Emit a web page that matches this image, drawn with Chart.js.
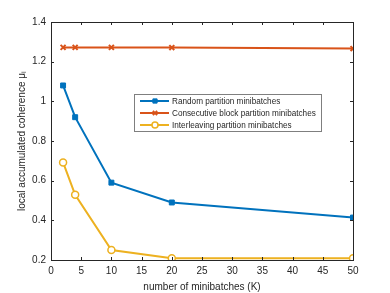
<!DOCTYPE html>
<html>
<head>
<meta charset="utf-8">
<script src="https://cdn.jsdelivr.net/npm/chart.js@4"></script>
<style>
  html, body { margin: 0; padding: 0; background: #fff; }
  #wrap { width: 390px; height: 293px; }
</style>
</head>
<body>
<div id="wrap"><canvas id="grafico"></canvas></div>
<script>
const minibatches = [2, 4, 10, 20, 50];
const aleatorio = [1.08, 0.92, 0.59, 0.49, 0.414];
const consecutivo = [1.272, 1.272, 1.272, 1.271, 1.266];
const intercalado = [0.692, 0.529, 0.25, 0.209, 0.209];
const nomes = ["Random partition minibatches", "Consecutive block partition minibatches", "Interleaving partition minibatches"];
const ticksY = [0.2, 0.4, 0.6, 0.8, 1, 1.2, 1.4];

const fonte = "'Liberation Sans', Arial, sans-serif";
const corEixo = "#262626";

function pontos(valores) {
    return minibatches.map((k, i) => ({ x: k, y: valores[i] }));
}

// caixa com ticks para dentro, estilo matlab
const caixaEixos = {
    id: "caixaEixos",
    afterDraw(chart) {
        const ctx = chart.ctx;
        const a = chart.chartArea;
        const sx = chart.scales.x, sy = chart.scales.y;
        ctx.save();
        ctx.strokeStyle = corEixo;
        ctx.lineWidth = 1;
        ctx.strokeRect(Math.round(a.left) + 0.5, Math.round(a.top) + 0.5, Math.round(a.right - a.left), Math.round(a.bottom - a.top));
        ctx.beginPath();
        sx.ticks.forEach(t => {
            const px = Math.round(sx.getPixelForValue(t.value)) + 0.5;
            ctx.moveTo(px, a.bottom); ctx.lineTo(px, a.bottom - 3);
            ctx.moveTo(px, a.top); ctx.lineTo(px, a.top + 3);
        });
        sy.ticks.forEach(t => {
            const py = Math.round(sy.getPixelForValue(t.value)) + 0.5;
            ctx.moveTo(a.left, py); ctx.lineTo(a.left + 3, py);
            ctx.moveTo(a.right, py); ctx.lineTo(a.right - 3, py);
        });
        ctx.stroke();
        ctx.restore();
    }
};

// legenda dentro da area do grafico
const legendaDentro = {
    id: "legendaDentro",
    afterDatasetsDraw(chart) {
        const ctx = chart.ctx;
        const x0 = 134, y0 = 94, w = 187, h = 37;
        ctx.save();
        ctx.fillStyle = "#fff";
        ctx.fillRect(x0, y0, w, h);
        ctx.strokeStyle = "#7f7f7f";
        ctx.lineWidth = 1;
        ctx.strokeRect(x0 + 0.5, y0 + 0.5, w, h);
        ctx.font = "8.2px " + fonte;
        ctx.textBaseline = "middle";
        chart.data.datasets.forEach((ds, i) => {
            const y = y0 + 7 + i * 12;
            ctx.strokeStyle = ds.borderColor;
            ctx.lineWidth = 2;
            ctx.beginPath();
            ctx.moveTo(x0 + 6, y); ctx.lineTo(x0 + 35, y);
            ctx.stroke();
            ctx.fillStyle = ds.pointBackgroundColor;
            ctx.strokeStyle = ds.borderColor;
            ctx.lineWidth = ds.pointBorderWidth;
            Chart.helpers.drawPoint(ctx, {
                pointStyle: ds.pointStyle,
                radius: 3,
                borderWidth: ds.pointBorderWidth,
                rotation: 0
            }, x0 + 21, y);
            ctx.fillStyle = corEixo;
            ctx.fillText(ds.label, x0 + 38, y + 0.5);
        });
        ctx.restore();
    }
};

const grafico = new Chart(document.getElementById("grafico"), {
    type: "line",
    data: {
        datasets: [
            {
                label: nomes[0],
                data: pontos(aleatorio),
                borderColor: "#0072BD",
                backgroundColor: "#0072BD",
                pointBackgroundColor: "#0072BD",
                pointStyle: "rect",
                pointRadius: 3.5,
                pointBorderWidth: 1,
                borderWidth: 2
            },
            {
                label: nomes[1],
                data: pontos(consecutivo),
                borderColor: "#D95319",
                backgroundColor: "#D95319",
                pointBackgroundColor: "#D95319",
                pointStyle: "crossRot",
                pointRadius: 3.5,
                pointBorderWidth: 2,
                borderWidth: 2
            },
            {
                label: nomes[2],
                data: pontos(intercalado),
                borderColor: "#EDB120",
                backgroundColor: "#EDB120",
                pointBackgroundColor: "#fff",
                pointStyle: "circle",
                pointRadius: 3.5,
                pointBorderWidth: 1.5,
                borderWidth: 2
            }
        ]
    },
    options: {
        responsive: true,
        maintainAspectRatio: false,
        animation: false,
        layout: { padding: { top: 22, right: 37, left: 0, bottom: 0 } },
        plugins: {
            legend: { display: false },
            tooltip: { enabled: false }
        },
        scales: {
            x: {
                type: "linear",
                min: 0,
                max: 50,
                ticks: { stepSize: 5, color: corEixo, font: { size: 10, family: fonte }, padding: 5, maxRotation: 0 },
                grid: { display: false, drawTicks: false },
                border: { display: false },
                title: { display: true, text: "number of minibatches (K)", color: corEixo, font: { size: 10, family: fonte }, padding: { top: 1, bottom: 0 } },
                afterFit(scale) { scale.height = 33; }
            },
            y: {
                min: 0.2,
                max: 1.4,
                afterBuildTicks(scale) { scale.ticks = ticksY.map(v => ({ value: v })); },
                ticks: { color: corEixo, font: { size: 10, family: fonte }, padding: 5, callback: v => String(v) },
                grid: { display: false, drawTicks: false },
                border: { display: false },
                title: { display: true, text: "local accumulated coherence μₗ", color: corEixo, font: { size: 10, family: fonte }, padding: { top: 16, bottom: 0 } },
                afterFit(scale) { scale.width = 51; }
            }
        }
    },
    plugins: [caixaEixos, legendaDentro]
});
</script>
</body>
</html>
